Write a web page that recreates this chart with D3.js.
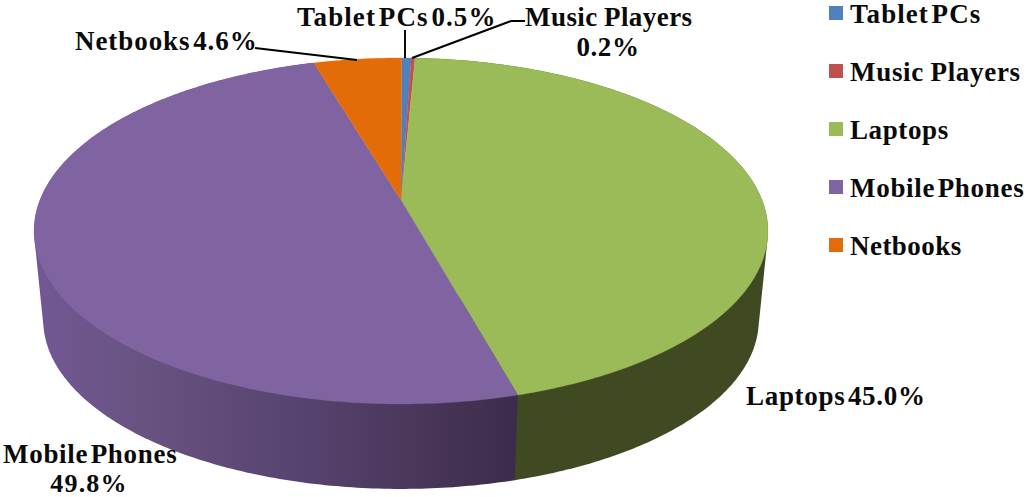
<!DOCTYPE html>
<html><head><meta charset="utf-8">
<script src="https://cdn.jsdelivr.net/npm/d3@7/dist/d3.min.js"></script>
<style>
html,body{margin:0;padding:0;background:#fff;overflow:hidden}
text{font-family:"Liberation Serif","Times New Roman",serif;font-weight:700;fill:#0a0a0a;font-size:27px}
</style></head><body>
<script>
const categories = ["Tablet PCs","Music Players","Laptops","Mobile Phones","Netbooks"];
const shares = [0.5,0.2,45.0,49.8,4.6];
const topColors = ["#4F81BD","#C0504D","#9BBB59","#8064A2","#E36C09"];
const shareText = ["0.5%","0.2%","45.0%","49.8%","4.6%"];

const W=1026,H=497;
const svg=d3.select("body").append("svg").attr("width",W).attr("height",H).style("display","block");
const defs=svg.append("defs");
const g=defs.append("linearGradient").attr("id","wallPurple").attr("gradientUnits","userSpaceOnUse")
  .attr("x1",34).attr("x2",518).attr("y1",0).attr("y2",0);
[[0,"#725894"],[.25,"#67527f"],[.55,"#574370"],[.8,"#493658"],[1,"#3C2C4C"]].forEach(s=>g.append("stop").attr("offset",s[0]).attr("stop-color",s[1]));

// perspective projection of the pie disc
const cx=401,cy=200,A=361,B=167.5,k=0.179,depth=90,shrink=0.975;
function project(a,rim){
  const u=Math.sin(a),v=-Math.cos(a),w=1-k*v,s=rim?shrink:1;
  return [cx+s*A*u/w, cy+(rim?depth:0)+s*B*v/w];
}
const line=d3.line();
const start=0.002;
const pie=d3.pie().sort(null).value(d=>d).startAngle(start).endAngle(2*Math.PI+start);
const arcs=pie(shares);
const samples=(a0,a1)=>{const n=Math.max(2,Math.ceil((a1-a0)*80));return d3.range(n+1).map(i=>a0+(a1-a0)*i/n);};

// walls: convex hull of a slice's upper and lower edge; purple and the top face hide the excess
const wallFill={3:"url(#wallPurple)",2:"#3F4A23"};
[2,3].forEach(i=>{
  const d=arcs[i];
  const s=samples(d.startAngle,d.endAngle);
  const pts=s.map(a=>project(a,false)).concat(s.map(a=>project(a,true)));
  svg.append("path").attr("d",line(d3.polygonHull(pts))+"Z").attr("fill",wallFill[i]);
});
// top face
arcs.forEach((d,i)=>{
  const pts=[[cx,cy]].concat(samples(d.startAngle,d.endAngle).map(a=>project(a,false)));
  svg.append("path").attr("d",line(pts)+"Z").attr("fill",topColors[i]).attr("stroke",topColors[i]).attr("stroke-width",.3);
});

// leaders
[[[405,30],[405,58]],[[412,58],[511,21],[525,21]],[[255,48],[357,60]]].forEach(p=>
  svg.append("path").attr("d",line(p)).attr("fill","none").attr("stroke","#000").attr("stroke-width",1.9));

// labels
function label(t,x,y,ls,ws){
  return svg.append("text").attr("x",x).attr("y",y)
    .style("letter-spacing",ls+"px").style("word-spacing",ws+"px").text(t);
}
label(categories[0]+" "+shareText[0],297,26,1.08,-5);
label(categories[1],525,26,.45,-1);
label(shareText[1],608,56,.55,0).attr("text-anchor","middle");
label(categories[4]+" "+shareText[4],75,50,.93,-5);
label(categories[2]+" "+shareText[2],746,405,.7,-5);
label(categories[3],3,462.5,.7,-5);
label(shareText[3],89,491.5,1.2,0).attr("text-anchor","middle").style("font-size","26px");

// legend
const ly=d3.scalePoint().domain(categories).range([13,245]);
const legendSpacing=[1.05,.7,.6,.7,.45], legendWord=[-5,-1,0,-5,0];
categories.forEach((c,i)=>{
  svg.append("rect").attr("x",829).attr("y",ly(c)-7).attr("width",14).attr("height",14).attr("fill",topColors[i]);
  label(c,850,ly(c)+10,legendSpacing[i],legendWord[i]);
});
</script></body></html>
